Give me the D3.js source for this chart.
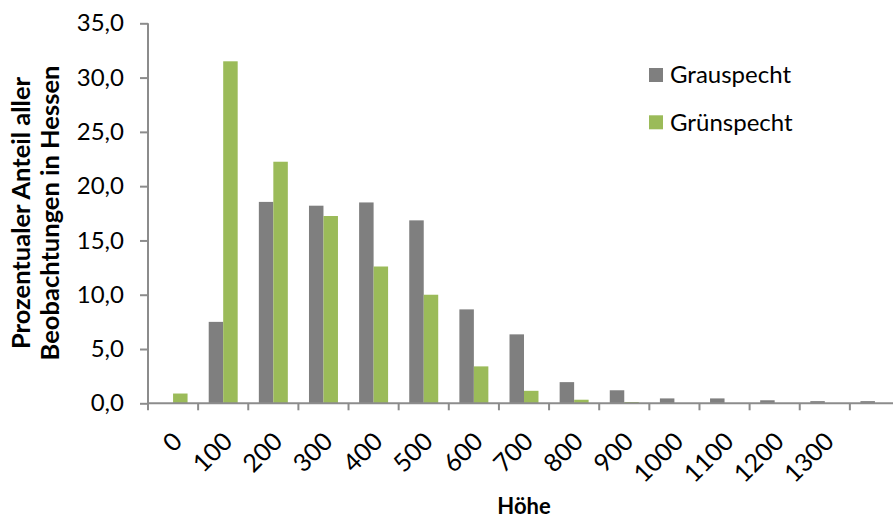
<!DOCTYPE html>
<html>
<head>
<meta charset="utf-8">
<script src="https://cdn.jsdelivr.net/npm/d3@7"></script>
<style>
  html, body { margin: 0; padding: 0; background: #fff; }
  svg { display: block; font-family: Lato, "Open Sans", sans-serif; }
</style>
</head>
<body>
<svg id="chart" width="893" height="518"></svg>
<script>
// Altitude classes (m) and share of all sightings in Hesse (%)
const categories = ["0", "100", "200", "300", "400", "500", "600", "700", "800", "900", "1000", "1100", "1200", "1300", ""];
const grauspecht = [0, 7.5, 18.55, 18.2, 18.5, 16.85, 8.65, 6.35, 1.95, 1.2, 0.45, 0.45, 0.28, 0.2, 0.2];
const gruenspecht = [0.9, 31.5, 22.25, 17.25, 12.6, 10.0, 3.4, 1.15, 0.33, 0.12, 0, 0, 0, 0, 0];
const seriesNames = ["Grauspecht", "Grünspecht"];
const yTicks = [0, 5, 10, 15, 20, 25, 30, 35];

const colors = { "Grauspecht": "#7f7f7f", "Grünspecht": "#9bbb59" };
const axisColor = "#8c8c8c";

const svg = d3.select("#chart");
const margin = { left: 148, top: 23.3, bottom: 403.3, right: 900 };

const x = d3.scaleBand().domain(categories.map((c, i) => i))
  .range([margin.left, margin.right]).paddingInner(0).paddingOuter(0);
const x1 = d3.scaleBand().domain(seriesNames)
  .range([0, x.bandwidth()]).paddingInner(0).paddingOuter(0.73);
const y = d3.scaleLinear().domain([0, 35]).range([margin.bottom, margin.top]);

const rows = categories.map((c, i) => ({ i, values: [
  { name: "Grauspecht", v: grauspecht[i] },
  { name: "Grünspecht", v: gruenspecht[i] }
]}));

// bars
svg.append("g").selectAll("g").data(rows).join("g")
  .attr("transform", d => `translate(${x(d.i)},0)`)
  .selectAll("rect").data(d => d.values.filter(e => e.v > 0)).join("rect")
  .attr("x", d => x1(d.name))
  .attr("width", x1.bandwidth())
  .attr("y", d => y(d.v))
  .attr("height", d => y(0) - y(d.v))
  .attr("fill", d => colors[d.name]);

// y axis
const yAxis = svg.append("g").attr("transform", `translate(${margin.left},0)`)
  .call(d3.axisLeft(y).tickValues(yTicks).tickSize(8).tickPadding(16)
    .tickFormat(d => d3.format(".1f")(d).replace(".", ",")));
yAxis.select(".domain").attr("stroke", axisColor).attr("stroke-width", 2).attr("d", `M0,${margin.top}V${margin.bottom}`);
yAxis.selectAll(".tick line").attr("stroke", axisColor).attr("stroke-width", 2);
yAxis.selectAll(".tick text").attr("fill", "#000").style("font-size", "24px").attr("font-family", "Lato");

// x axis: ticks on category boundaries
const xg = svg.append("g").attr("transform", `translate(0,${margin.bottom})`);
xg.append("line").attr("x1", margin.left).attr("x2", margin.right)
  .attr("stroke", axisColor).attr("stroke-width", 2);
const boundaries = categories.map((c, i) => x(i)).concat([margin.right]);
xg.selectAll("line.tick").data(boundaries).join("line").attr("class", "tick")
  .attr("x1", d => d).attr("x2", d => d).attr("y1", 0).attr("y2", 7)
  .attr("stroke", axisColor).attr("stroke-width", 2);
xg.selectAll("text").data(categories.map((c, i) => ({ c, i }))).join("text")
  .attr("transform", d => `translate(${x(d.i) + x.bandwidth() / 2 - 2},${27}) rotate(-45)`)
  .attr("text-anchor", "end")
  .attr("dy", "0.72em")
  .style("font-size", "25px")
  .text(d => d.c);

// axis titles
svg.append("text").attr("x", 524).attr("y", 514)
  .attr("text-anchor", "middle").style("font-size", "22px").style("font-weight", "bold")
  .text("Höhe");
const yt = svg.append("text").attr("transform", "translate(30,213) rotate(-90)")
  .attr("text-anchor", "middle").style("font-size", "25.5px").style("font-weight", "bold");
yt.append("tspan").attr("x", 0).attr("dy", "0").text("Prozentualer Anteil aller");
yt.append("tspan").attr("x", 0).attr("dy", "29").text("Beobachtungen in Hessen");

// legend
const lg = svg.append("g").selectAll("g").data(seriesNames).join("g")
  .attr("transform", (d, i) => `translate(649,${68 + i * 47.3})`);
lg.append("rect").attr("width", 14).attr("height", 14).attr("fill", d => colors[d]);
lg.append("text").attr("x", 21).attr("y", 7).attr("dy", "0.35em")
  .style("font-size", "24px").text(d => d);
</script>
</body>
</html>
